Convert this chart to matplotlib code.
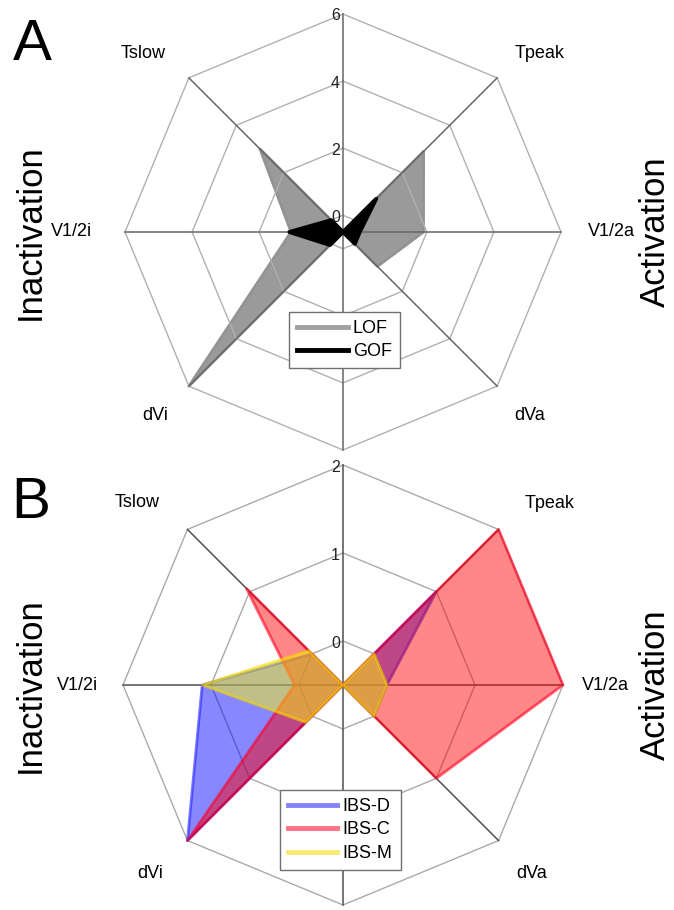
import numpy as np
import matplotlib
matplotlib.use("Agg")
import matplotlib.pyplot as plt
from matplotlib.lines import Line2D
import matplotlib.transforms as mtransforms

plt.rcParams['font.family'] = ['Liberation Sans', 'DejaVu Sans']

# ---------------- data ----------------
categories = ['', 'Tpeak', 'V1/2a', 'dVa', '', 'dVi', 'V1/2i', 'Tslow']

# panel A
a_ticks = [0, 2, 4, 6]
a_rmin, a_rmax = -0.5, 6
lof = [-0.5, 2.9, 1.9, 0.95, -0.5, 6.0, 1.05, 3.0]
gof = [-0.5, 0.9, 0.0, 0.0, -0.5, 0.05, 1.1, 0.0]

# panel B
b_ticks = [0, 1, 2]
b_rmin, b_rmax = -0.5, 2
ibs_d = [-0.5, 1.0, 0.0, 0.0, -0.5, 2.0, 1.1, 0.0]
ibs_c = [-0.5, 2.0, 2.0, 1.0, -0.5, 2.0, 0.05, 1.05]
ibs_m = [-0.5, 0.0, 0.0, 0.0, -0.5, 0.1, 1.1, 0.05]

W, H = 674, 910
fig = plt.figure(figsize=(W / 100, H / 100), dpi=100)

n = len(categories)
theta = np.arange(n) * 2 * np.pi / n
theta_c = np.append(theta, theta[0])


def close(v):
    return np.append(v, v[0])


def make_axes(cx, cy, R):
    ax = fig.add_axes([(cx - R) / W, (H - cy - R) / H, 2 * R / W, 2 * R / H],
                      projection='polar')
    ax.set_theta_zero_location('N')
    ax.set_theta_direction(-1)
    ax.grid(False)
    ax.set_xticks([])
    ax.set_yticks([])
    ax.spines['polar'].set_visible(False)
    ax.patch.set_alpha(0)
    return ax


def draw_grid(ax, ticks, rmin, rmax, ring_col, spoke_col, z):
    for v in ticks:
        ax.plot(theta_c, [v] * (n + 1), color=ring_col, lw=1.0, zorder=z,
                clip_on=False)
    for t in theta:
        ax.plot([t, t], [rmin, rmax], color=spoke_col, lw=1.1, zorder=z,
                clip_on=False)


def tick_labels(ax, ticks):
    tr = mtransforms.offset_copy(ax.transData, fig=fig, x=-3, y=-2,
                                 units='dots')
    for v in ticks:
        ax.text(0, v, str(v), transform=tr, ha='right', va='center',
                fontsize=11.5, color='#222222', zorder=10, clip_on=False)


def cat_labels(ax, R, offsets):
    for name, (dx, dy) in offsets.items():
        ax.text(0.5 + dx / (2 * R), 0.5 - dy / (2 * R), name,
                transform=ax.transAxes, ha='center', va='center',
                fontsize=13, color='black', clip_on=False)


# ---------------- panel A ----------------
RA = 218
axA = make_axes(343, 232, RA)
axA.set_ylim(a_rmin, a_rmax)
axA.fill(theta_c, close(lof), color='#9a9a9a', zorder=1, clip_on=False)
axA.plot(theta_c, close(lof), color='#939393', lw=2, zorder=1,
         clip_on=False)
draw_grid(axA, a_ticks, a_rmin, a_rmax, '#b0b0b0', '#666666', 2)
axA.fill(theta_c, close(gof), color='black', zorder=3)
axA.plot(theta_c, close(gof), color='black', lw=2.8, zorder=3)
tick_labels(axA, a_ticks)
cat_labels(axA, RA, {'Tslow': (-200, -178), 'Tpeak': (197, -178),
                     'V1/2a': (268, 0), 'V1/2i': (-272, 0),
                     'dVi': (-188, 183), 'dVa': (187, 183)})
axA.legend(handles=[Line2D([], [], color='#a0a0a0', lw=3.5, label='LOF'),
                    Line2D([], [], color='black', lw=3.5, label='GOF')],
           loc='center', bbox_to_anchor=(344.5 / W, 1 - 340 / H),
           bbox_transform=fig.transFigure, fontsize=13, frameon=True,
           fancybox=False, framealpha=1, edgecolor='#707070',
           handlelength=2.8, handletextpad=0.3, labelspacing=0.35,
           borderpad=0.45, borderaxespad=0)

# ---------------- panel B ----------------
RB = 220
axB = make_axes(343, 685, RB)
axB.set_ylim(b_rmin, b_rmax)
draw_grid(axB, b_ticks, b_rmin, b_rmax, '#aaaaaa', '#505050', 1)
series = [(ibs_d, '#0000ff', '#2020ff', 'IBS-D'),
          (ibs_c, '#ff0000', '#ff0022', 'IBS-C'),
          (ibs_m, '#ffff00', '#f5d800', 'IBS-M')]
handles = []
for i, (vals, fc, ec, lab) in enumerate(series):
    axB.fill(theta_c, close(vals), color=fc, alpha=0.47, lw=0, zorder=2 + i,
             clip_on=False)
    axB.plot(theta_c, close(vals), color=ec, alpha=0.6, lw=2, zorder=2 + i,
             clip_on=False)
    handles.append(Line2D([], [], color=ec, alpha=0.55, lw=3.5, label=lab))
tick_labels(axB, b_ticks)
cat_labels(axB, RB, {'Tslow': (-206, -183), 'Tpeak': (207, -181),
                     'V1/2a': (262, 0), 'V1/2i': (-266, 0),
                     'dVi': (-193, 188), 'dVa': (189, 188)})
axB.legend(handles=handles, loc='center',
           bbox_to_anchor=(340.5 / W, 1 - 830 / H),
           bbox_transform=fig.transFigure, fontsize=13, frameon=True,
           fancybox=False, framealpha=1, edgecolor='#707070',
           handlelength=2.7, handletextpad=0.3, labelspacing=0.35,
           borderpad=0.45, borderaxespad=0)

# ---------------- panel letters and side titles ----------------
fig.text(32 / W, 1 - 45 / H, 'A', fontsize=42, ha='center', va='center')
fig.text(31 / W, 1 - 503 / H, 'B', fontsize=42, ha='center', va='center')
for cy in (232, 685):
    fig.text(30 / W, 1 - cy / H, 'Inactivation', fontsize=25, rotation=90,
             ha='center', va='center')
    fig.text(655 / W, 1 - cy / H, 'Activation', fontsize=25, rotation=90,
             ha='center', va='center')

fig.savefig('out.png', dpi=100, facecolor='white')
